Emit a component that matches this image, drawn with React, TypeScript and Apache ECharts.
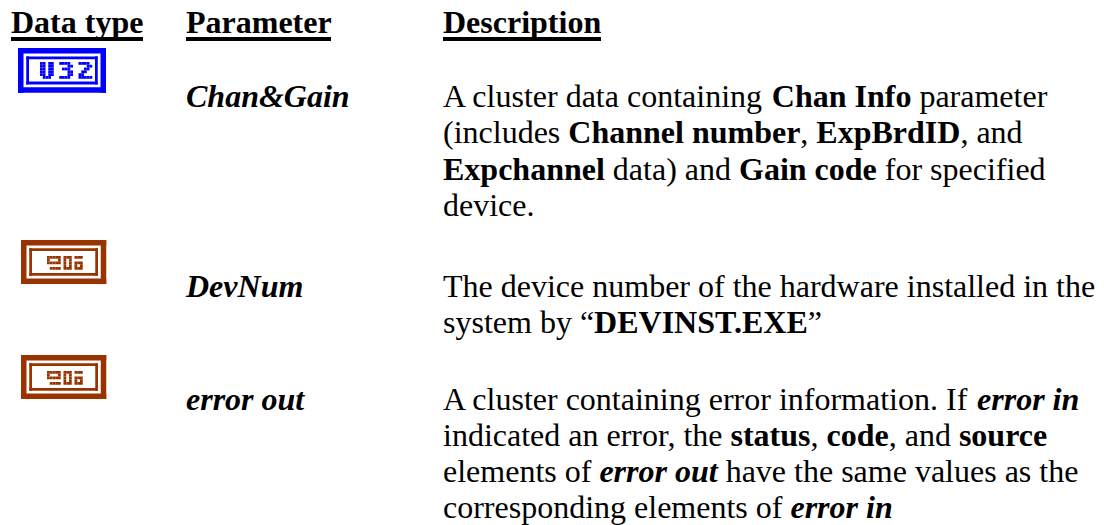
import React, { useEffect, useRef } from "react";
import * as echarts from "echarts";

const FONT = '"Liberation Serif", "Times New Roman", serif';
const headers = ["Data type", "Parameter", "Description"];
const parameters = ["Chan&Gain", "DevNum", "error out"];
const descriptions = [
  "A cluster data containing {b|Chan Info} parameter",
  "(includes {b|Channel number}, {b|ExpBrdID}, and",
  "{b|Expchannel} data) and {b|Gain code} for specified",
  "device.",
  "The device number of the hardware installed in the",
  "system by “{b|DEVINST.EXE}”",
  "A cluster containing error information. If {bi|error in}",
  "indicated an error, the {b|status}, {b|code}, and {b|source}",
  "elements of {bi|error out} have the same values as the",
  "corresponding elements of {bi|error in}",
];
const descriptionY = [106.5, 143, 179.5, 216, 296.5, 333, 409.5, 446, 482, 518];
const parameterY = [106.5, 296.5, 409.5];

const BLUE = "#0000ff";
const BROWN = "#993300";

function frame(x: number, y: number, cols: number, cw: number, ch: number, color: string, glyph: string[], gx: number, gy: number) {
  const w = cols * cw, h = 16 * ch;
  const r = (px: number, py: number, pw: number, ph: number) => ({
    type: "rect", silent: true, shape: { x: x + px, y: y + py, width: pw, height: ph }, style: { fill: color },
  });
  const out: any[] = [
    r(0, 0, w, 2 * ch), r(0, 14 * ch, w, 2 * ch), r(0, 0, 2 * cw, h), r(w - 2 * cw, 0, 2 * cw, h),
    r(3 * cw, 3 * ch, w - 6 * cw, ch), r(3 * cw, 12 * ch, w - 6 * cw, ch),
    r(3 * cw, 3 * ch, cw, 10 * ch), r(w - 4 * cw, 3 * ch, cw, 10 * ch),
  ];
  glyph.forEach((row, j) => {
    for (let i = 0; i < row.length; i++) if (row[i] === "#") out.push(r(gx + i * cw, gy + j * ch, cw, ch));
  });
  return out;
}

const glyphU32 = [
  "## ##  ####   ####",
  "## ##     ##     ##",
  "## ##   ###     ##",
  "## ##     ##   ##",
  "## ##     ##  ##",
  " ###   ####   #####",
];
const glyphI16 = [
  "##### ### ###",
  "#   # # #    ",
  "##### # # ###",
  "      # # # #",
  " #### ### ###",
];

export default function App() {
  const ref = useRef<HTMLDivElement>(null);
  useEffect(() => {
    const chart = echarts.init(ref.current!, null, { renderer: "svg" });
    const SIZE = 32;
    const text = (x: number, baseline: number, t: string, font: string, rich?: any) => ({
      type: "text", x, y: baseline - SIZE * 0.83, silent: true,
      style: { text: t, font, fill: "#000", rich },
    });
    const base = `${SIZE}px ${FONT}`;
    const rich = {
      b: { font: `bold ${SIZE}px ${FONT}`, fill: "#000" },
      bi: { font: `italic bold ${SIZE}px ${FONT}`, fill: "#000" },
    };
    const els: any[] = [];
    const hx = [11, 186, 443], hw = [132, 145, 158];
    headers.forEach((h, i) => {
      els.push(text(hx[i], 33, h, `bold ${SIZE}px ${FONT}`));
      els.push({ type: "rect", silent: true, shape: { x: hx[i], y: 37, width: hw[i], height: 4 }, style: { fill: "#000" } });
    });
    parameters.forEach((p, i) => els.push(text(186, parameterY[i], p, `italic bold ${SIZE}px ${FONT}`)));
    descriptions.forEach((d, i) => els.push(text(443, descriptionY[i], d, base, rich)));
    els.push(...frame(18, 48, 32, 2.75, 2.8, BLUE, glyphU32, 22, 14));
    els.push(...frame(21, 240, 31, 2.75, 2.75, BROWN, glyphI16, 26, 16));
    els.push(...frame(21, 355, 31, 2.75, 2.75, BROWN, glyphI16, 26, 16));
    chart.setOption({ animation: false, graphic: { elements: els } });
    return () => chart.dispose();
  }, []);
  return <div ref={ref} style={{ position: "absolute", left: 0, top: 0, width: 1104, height: 525, background: "#fff" }} />;
}
